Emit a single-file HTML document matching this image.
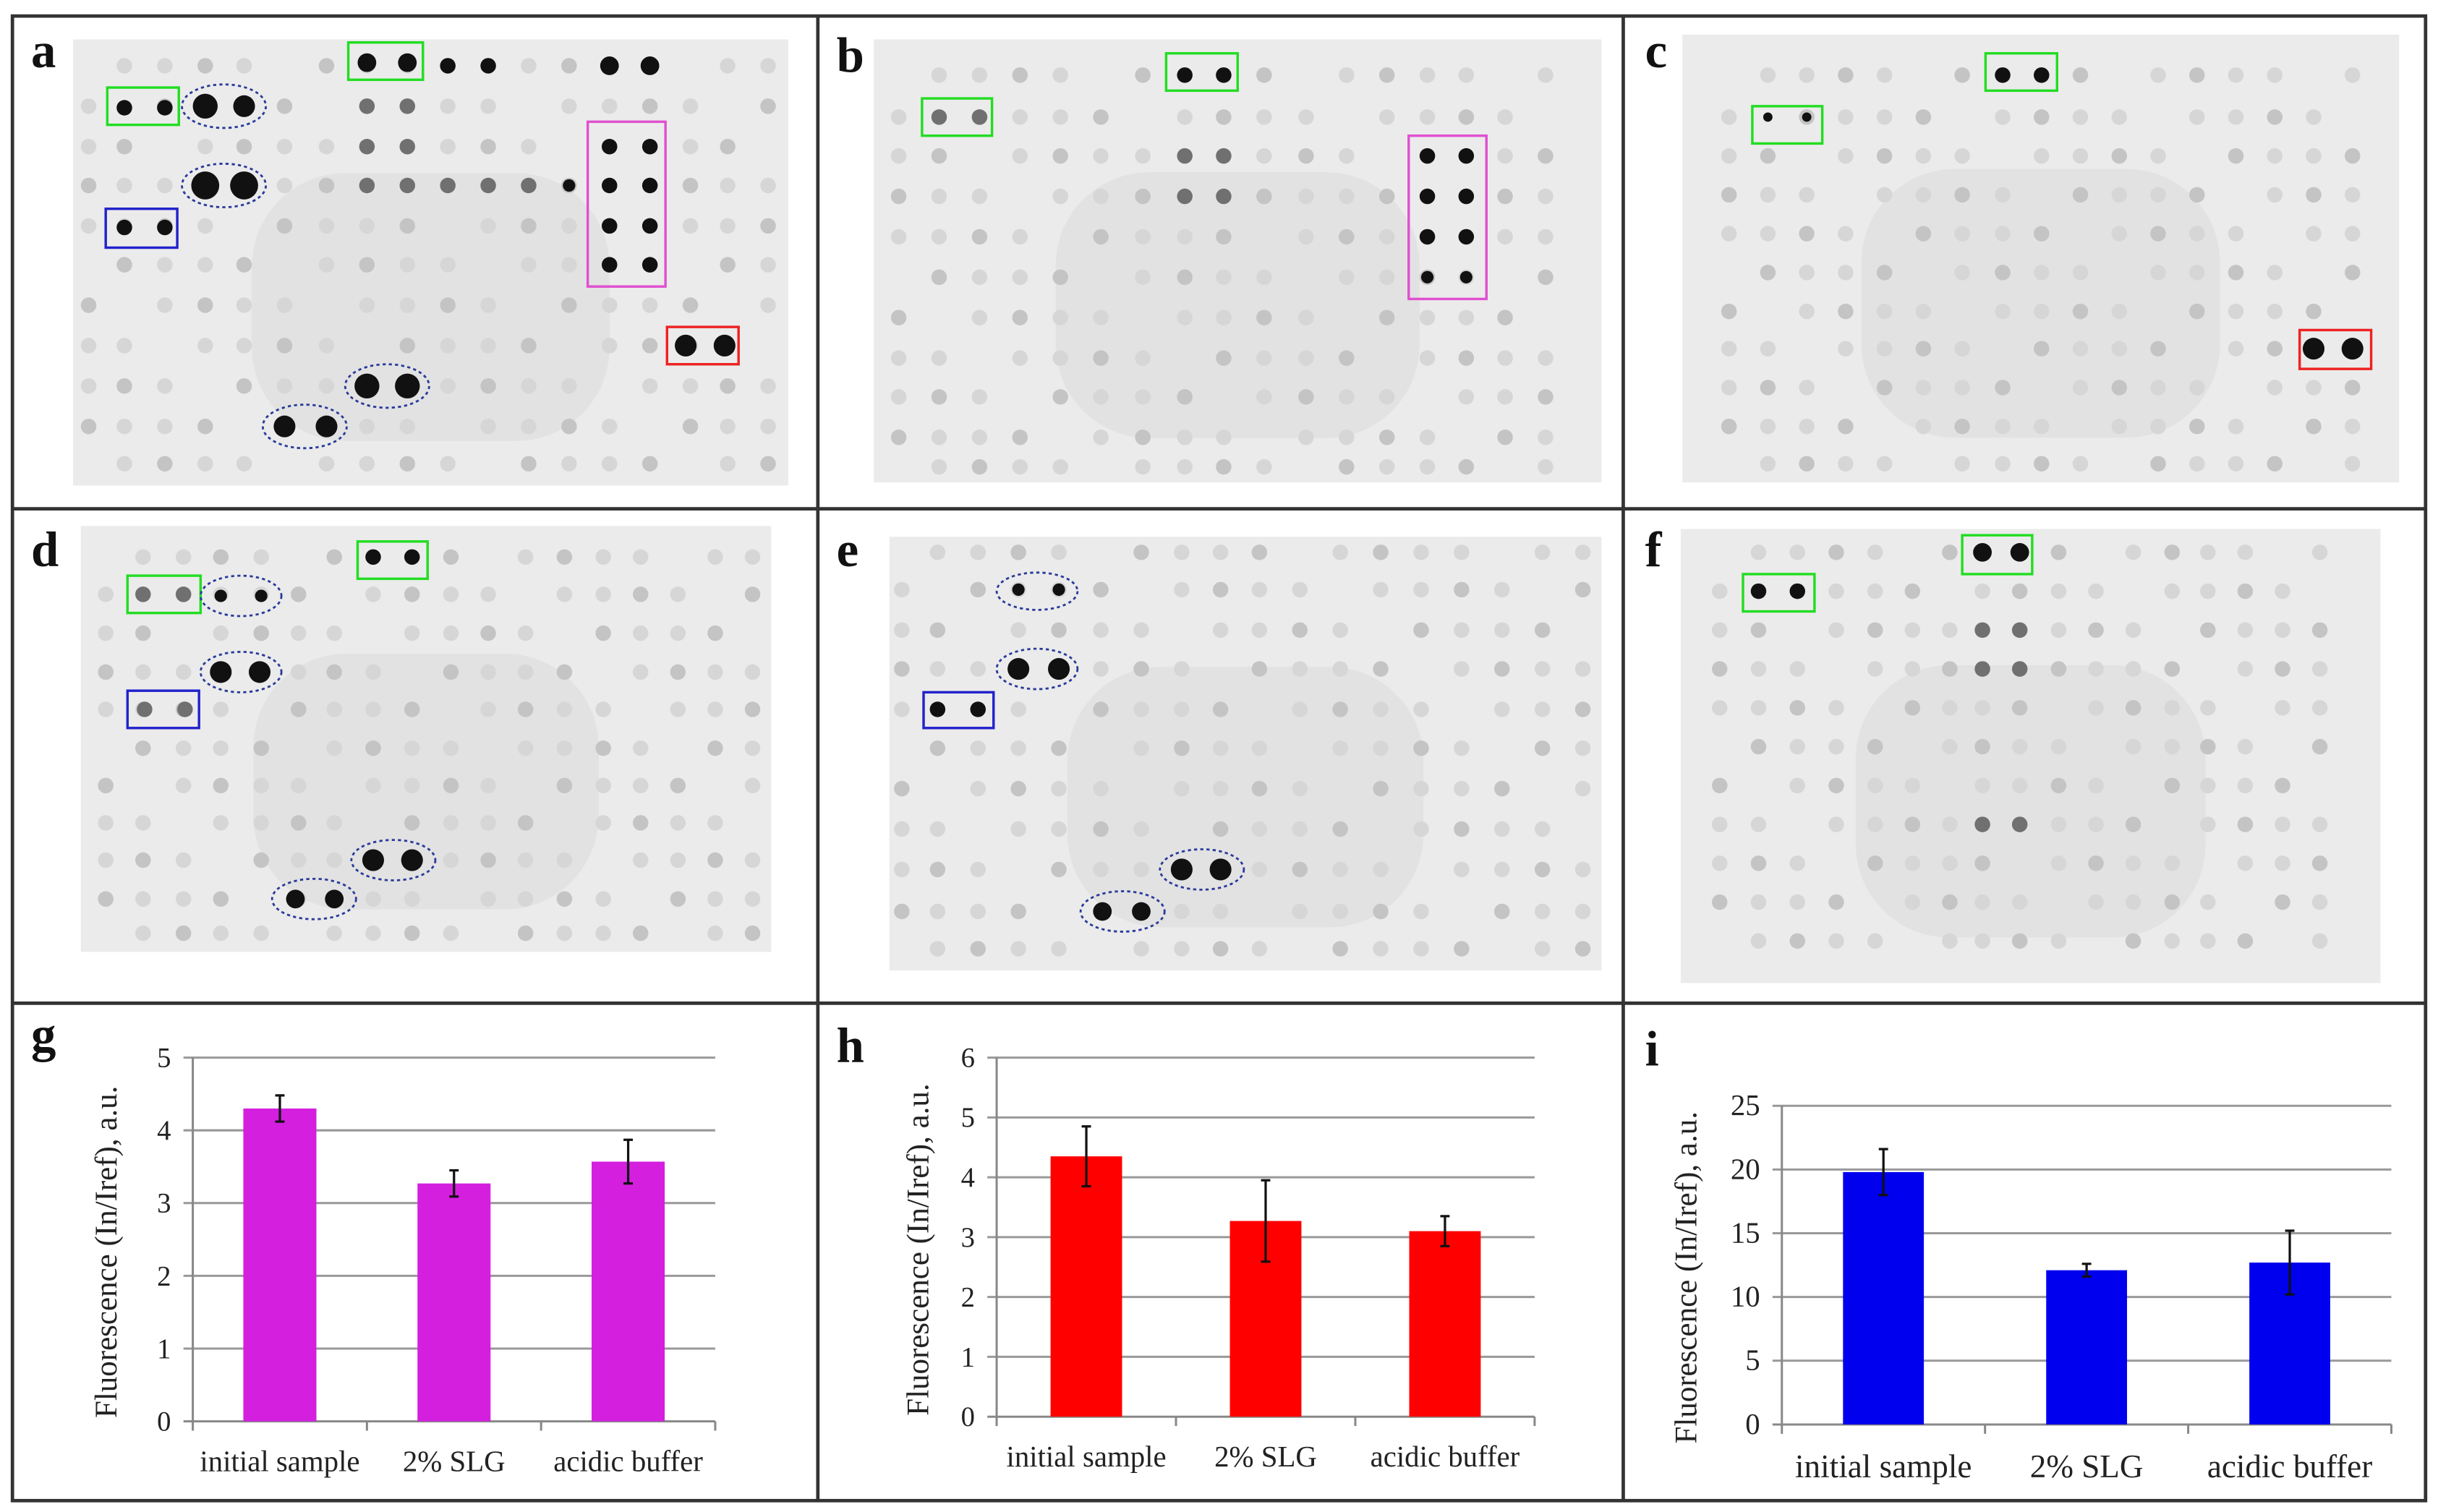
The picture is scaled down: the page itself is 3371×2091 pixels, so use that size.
<!DOCTYPE html>
<html><head><meta charset="utf-8"><style>
html,body{margin:0;padding:0;background:#fff;}
svg{display:block;font-family:"Liberation Serif",serif;}
</style></head><body>
<svg id="fig" width="3371" height="2091" viewBox="0 0 1568 972" xmlns="http://www.w3.org/2000/svg">
<rect x="0" y="0" width="1568" height="972" fill="#fff"/>
<g id="blots"></g>
<g id="charts"></g>
<g id="frames" fill="none" stroke="#333" stroke-width="2.2">
<rect x="8" y="10" width="1552" height="955"/>
<line x1="526" y1="10" x2="526" y2="965"/>
<line x1="1044" y1="10" x2="1044" y2="965"/>
<line x1="8" y1="327" x2="1560" y2="327"/>
<line x1="8" y1="645" x2="1560" y2="645"/>
</g>
<g font-weight="bold" font-size="32" fill="#111">
<text x="20" y="43">a</text>
<text x="538" y="46">b</text>
<text x="1058" y="43">c</text>
<text x="20" y="364">d</text>
<text x="538" y="364">e</text>
<text x="1058" y="364">f</text>
<text x="20" y="676">g</text>
<text x="538" y="683">h</text>
<text x="1058" y="685">i</text>
</g>
</svg>
<script>
// ---- chart data ----
const categories = ["initial sample", "2% SLG", "acidic buffer"];
const gValues = [4.3, 3.27, 3.57];
const gErrors = [0.18, 0.18, 0.3];
const gTicks = [0, 1, 2, 3, 4, 5];
const hValues = [4.35, 3.27, 3.1];
const hErrors = [0.5, 0.68, 0.25];
const hTicks = [0, 1, 2, 3, 4, 5, 6];
const iValues = [19.8, 12.1, 12.7];
const iErrors = [1.8, 0.5, 2.5];
const iTicks = [0, 5, 10, 15, 20, 25];

const NS = "http://www.w3.org/2000/svg";
function mk(tag, attrs, parent){
  const e = document.createElementNS(NS, tag);
  for (const k in attrs) e.setAttribute(k, attrs[k]);
  parent.appendChild(e); return e;
}

function chart(cfg){
  const root = document.getElementById('charts');
  const g = mk('g', {}, root);
  
  
  const max = cfg.ticks[cfg.ticks.length-1];
  const y = v => cfg.y0 - (v / max) * (cfg.y0 - cfg.y1);
  const band = (cfg.x1 - cfg.x0) / categories.length;
  const xc = i => cfg.x0 + band * (i + 0.5);
  cfg.ticks.forEach(t => {
    const ln = mk('line', {x1: cfg.x0 - 6, x2: cfg.x1, y1: y(t), y2: y(t), stroke: t === 0 ? '#888' : '#999', 'stroke-width': 1.4}, g);
    
    
    const tx = mk('text', {x: cfg.x0 - 14, y: y(t) + 6, 'text-anchor': 'end', 'font-size': cfg.fs, fill: '#222'}, g);
    tx.textContent = t;
    
    
  });
  const ax = mk('line', {x1: cfg.x0, x2: cfg.x0, y1: y(max), y2: cfg.y0 + 6, stroke: '#888', 'stroke-width': 1.4}, g);
  
  
  for (let i = 1; i <= categories.length; i++) {
    const tk = mk('line', {x1: cfg.x0 + band*i, x2: cfg.x0 + band*i, y1: cfg.y0, y2: cfg.y0 + 6, stroke: '#888', 'stroke-width': 1.4}, g);
    
    
  }
  categories.forEach((c, i) => {
    const v = cfg.values[i], e = cfg.errors[i];
    const b = mk('rect', {x: xc(i) - cfg.bw/2, y: y(v), width: cfg.bw, height: cfg.y0 - y(v), fill: cfg.color}, g);
    
    
    const eb = mk('path', {d: `M${xc(i)},${y(v+e)}V${y(v-e)}M${xc(i)-3},${y(v+e)}H${xc(i)+3}M${xc(i)-3},${y(v-e)}H${xc(i)+3}`, stroke: '#111', 'stroke-width': 1.5, fill: 'none'}, g);
    
    
    const lb = mk('text', {x: xc(i), y: cfg.y0 + cfg.lblOff, 'text-anchor': 'middle', 'font-size': cfg.lfs, fill: '#222'}, g);
    lb.textContent = c;
    
    
  });
  const yt = mk('text', {x: 0, y: 0, transform: `translate(${cfg.ytx},${(cfg.y0 + y(max))/2 + 8}) rotate(-90)`, 'text-anchor': 'middle', 'font-size': cfg.tfs, fill: '#222'}, g);
  yt.textContent = 'Fluorescence (In/Iref), a.u.';
  
  
}

chart({name:'chart-g', values:gValues, errors:gErrors, ticks:gTicks, x0:124, x1:460, y0:914, y1:680, bw:47, color:'#d41fdf', fs:18, lfs:19, tfs:20, lblOff:32, ytx:75});
chart({name:'chart-h', values:hValues, errors:hErrors, ticks:hTicks, x0:641, x1:987, y0:911, y1:680, bw:46, color:'#ff0000', fs:18, lfs:19, tfs:20, lblOff:32, ytx:597});
chart({name:'chart-i', values:iValues, errors:iErrors, ticks:iTicks, x0:1146, x1:1538, y0:916, y1:711, bw:52, color:'#0000ee', fs:19, lfs:21, tfs:20, lblOff:34, ytx:1091});

// ---- blots (illustrative images) ----
const blots = [
 {name:'blot-a', x:47, y:25, w:460, h:287, cols:[57,80,106,132,157,183,210,236,262,288,314,340,366,392,418,444,468,494], rows:[42,68,94,119,145,170,196,222,248,274,298],
  dark:[[236,40,6],[262,40,6],[288,42,5],[314,42,5],[392,42,6],[418,42,6],[80,69,5],[106,69,5],[132,68,8],[157,68,7],[132,119,9],[157,119,9],[80,146,5],[106,146,5],[392,94,5],[418,94,5],[392,119,5],[418,119,5],[392,145,5],[418,145,5],[392,170,5],[418,170,5],[441,222,7],[466,222,7],[236,248,8],[262,248,8],[183,274,7],[210,274,7],[366,119,4]],
  boxes:[[224,27,48,24,'#22dd22'],[69,56,46,24,'#22dd22'],[68,134,46,25,'#2222cc'],[378,78,50,106,'#e050d0'],[429,210,46,24,'#ee2222']],
  ells:[[144,68,27,14],[144,119,27,14],[249,248,27,14],[196,274,27,14]]},
 {name:'blot-b', x:562, y:25, w:468, h:285, cols:[578,604,630,656,682,708,735,762,787,813,840,866,892,918,943,968,994], rows:[48,75,100,126,152,178,204,230,255,281,300],
  dark:[[762,48,5],[787,48,5],[918,100,5],[943,100,5],[918,126,5],[943,126,5],[918,152,5],[943,152,5],[918,178,4],[943,178,4]],
  boxes:[[750,34,46,24,'#22dd22'],[593,63,45,24,'#22dd22'],[906,87,50,105,'#e050d0']], ells:[]},
 {name:'blot-c', x:1082, y:22, w:461, h:288, cols:[1112,1137,1162,1187,1212,1237,1262,1288,1313,1338,1363,1388,1413,1438,1463,1488,1513], rows:[48,75,100,125,150,175,200,224,249,274,298],
  dark:[[1288,48,5],[1313,48,5],[1137,75,3],[1162,75,3],[1488,224,7],[1513,224,7]],
  boxes:[[1277,34,46,24,'#22dd22'],[1127,68,45,24,'#22dd22'],[1479,212,46,25,'#ee2222']], ells:[]},
 {name:'blot-d', x:52, y:338, w:444, h:274, cols:[68,92,118,142,168,192,215,240,265,290,314,338,363,388,412,436,460,484], rows:[358,382,407,432,456,481,505,529,553,578,600],
  dark:[[240,358,5],[265,358,5],[142,383,4],[168,383,4],[142,432,7],[167,432,7],[240,553,7],[265,553,7],[190,578,6],[215,578,6]],
  boxes:[[230,348,45,24,'#22dd22'],[82,370,47,24,'#22dd22'],[82,444,46,24,'#2222cc']],
  ells:[[155,383,26,13],[155,432,26,13],[253,553,27,13],[202,578,27,13]]},
 {name:'blot-e', x:572, y:345, w:458, h:279, cols:[580,603,629,655,681,708,734,760,785,810,836,862,888,914,940,966,992,1018], rows:[355,379,405,430,456,481,507,533,559,586,610],
  dark:[[655,379,4],[681,379,4],[655,430,7],[681,430,7],[603,456,5],[629,456,5],[760,559,7],[785,559,7],[709,586,6],[734,586,6]],
  boxes:[[594,445,45,23,'#2222cc']], ells:[[667,380,26,12],[667,430,26,13],[773,559,27,13],[722,586,27,13]]},
 {name:'blot-f', x:1081, y:340, w:450, h:292, cols:[1106,1131,1156,1181,1206,1230,1254,1275,1299,1324,1348,1372,1397,1420,1444,1468,1492], rows:[355,380,405,430,455,480,505,530,555,580,605],
  dark:[[1275,355,6],[1299,355,6],[1131,380,5],[1156,380,5]],
  boxes:[[1262,344,45,25,'#22dd22'],[1121,369,46,24,'#22dd22']], ells:[]}
];
const gray = {
 'blot-a':[[236,94],[262,94],[288,119],[314,119],[340,119],[236,68],[262,68],[236,119],[262,119]],
 'blot-b':[[604,75],[630,75],[762,100],[787,100],[762,126],[787,126]],
 'blot-d':[[92,382],[118,382],[93,456],[119,456]],
 'blot-f':[[1275,405],[1299,405],[1275,430],[1299,430],[1275,530],[1299,530]]
};
const bg = document.getElementById('blots');
blots.forEach(b => {
  const g = mk('g', {}, bg);
  
  
  mk('rect', {x:b.x, y:b.y, width:b.w, height:b.h, fill:'#ebebeb'}, g);
  mk('rect', {x:b.x + b.w*0.25, y:b.y + b.h*0.3, width:b.w*0.5, height:b.h*0.6, fill:'#e2e2e2', rx:60}, g);
  b.rows.forEach((ry, ri) => b.cols.forEach((cx, ci) => {
    if ((ri*7 + ci*3) % 5 === 0) return;
    const shade = ((ri + ci) % 3 === 0) ? '#c4c4c4' : '#d6d6d6';
    mk('circle', {cx, cy:ry, r:5, fill:shade}, g);
  }));
  (gray[b.name] || []).forEach(d => mk('circle', {cx:d[0], cy:d[1], r:5, fill:'#707070'}, g));
  b.dark.forEach(d => mk('circle', {cx:d[0], cy:d[1], r:d[2], fill:'#111'}, g));
  b.boxes.forEach(r => {
    const e = mk('rect', {x:r[0], y:r[1], width:r[2], height:r[3], fill:'none', stroke:r[4], 'stroke-width':1.6}, g);
    
    
  });
  b.ells.forEach(r => {
    const e = mk('ellipse', {cx:r[0], cy:r[1], rx:r[2], ry:r[3], fill:'none', stroke:'#2a3a9a', 'stroke-width':1.3, 'stroke-dasharray':'2 2'}, g);
    
    
  });
});
</script>
</body></html>
